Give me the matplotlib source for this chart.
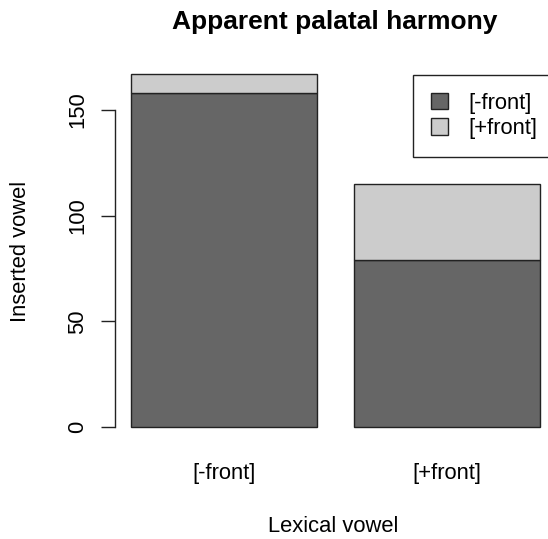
import matplotlib
matplotlib.use("Agg")
import matplotlib.pyplot as plt
from matplotlib.patches import Patch

plt.rcParams['font.family'] = ['Liberation Sans', 'DejaVu Sans']

categories = ["[-front]", "[+front]"]
series_names = ["[-front]", "[+front]"]
minus_front = [158, 79]
plus_front = [9, 36]
colors = ["#666666", "#CCCCCC"]
title = "Apparent palatal harmony"
xlabel = "Lexical vowel"
ylabel = "Inserted vowel"
yticks = [0, 50, 100, 150]

W, H = 548, 539
fs = 15.8

fig = plt.figure(figsize=(W / 100, H / 100), dpi=100)
left, right, top, bottom = 114.7, 555.9, 60.0, 441.1
ax = fig.add_axes([left / W, (H - bottom) / H, (right - left) / W, (bottom - top) / H])

centers = [0.7, 1.9]
ax.bar(centers, minus_front, width=1.0, color=colors[0], edgecolor="#222222", linewidth=1.0)
ax.bar(centers, plus_front, width=1.0, bottom=minus_front, color=colors[1], edgecolor="#222222", linewidth=1.0)

ax.set_xlim(0.112, 2.488)
ax.set_ylim(-6.68, 173.68)

for s in ["top", "right", "bottom"]:
    ax.spines[s].set_visible(False)
ax.spines["left"].set_bounds(0, 150)
ax.spines["left"].set_linewidth(1.0)
ax.spines["left"].set_color("#222222")

ax.set_yticks(yticks)
ax.set_yticklabels([str(v) for v in yticks], rotation=90, va="center", fontsize=fs)
ax.tick_params(axis="y", length=10, width=1.0, pad=9, color="#222222")
ax.set_xticks(centers)
ax.set_xticklabels(categories, fontsize=fs)
ax.tick_params(axis="x", length=0, pad=16)

fig.text(335 / W, 1 - 22 / H, title, ha="center", va="center", fontsize=fs * 1.2, fontweight="bold")
fig.text(333 / W, 1 - 526 / H, xlabel, ha="center", va="center", fontsize=fs)
fig.text(21 / W, 1 - 251 / H, ylabel, ha="center", va="center", rotation=90, fontsize=fs)

handles = [Patch(facecolor=colors[0], edgecolor="#222222", linewidth=1.0),
           Patch(facecolor=colors[1], edgecolor="#222222", linewidth=1.0)]
leg = ax.legend(handles, series_names, loc="upper left",
                bbox_to_anchor=(413 / W, 1 - 75 / H), bbox_transform=fig.transFigure,
                fontsize=fs, frameon=True, fancybox=False, framealpha=1,
                edgecolor="#222222", borderpad=0.8, handlelength=0.78, handleheight=0.78,
                handletextpad=0.95, labelspacing=0.22, borderaxespad=0)
leg.get_frame().set_linewidth(1.0)

fig.savefig("out.png", dpi=100)
